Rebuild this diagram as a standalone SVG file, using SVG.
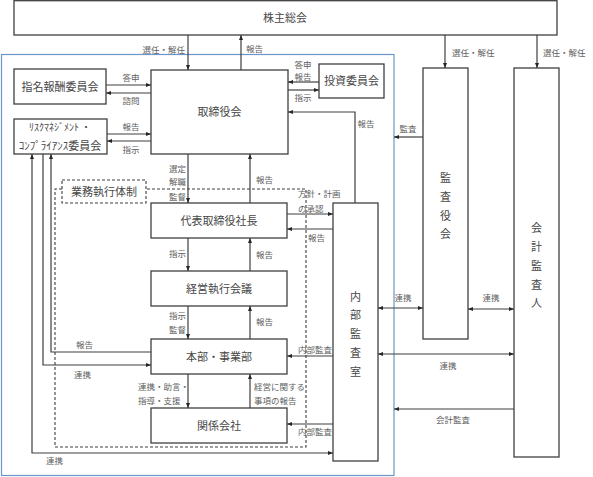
<svg xmlns="http://www.w3.org/2000/svg" width="593" height="477" viewBox="0 0 593 477">
<style>
.n{fill:#fff;stroke:#3f3f3f;stroke-width:1.3}
.t{font-family:"Noto Sans CJK JP","Noto Sans CJK SC",sans-serif;font-size:11px;fill:#474747;text-anchor:middle}
.l{font-family:"Noto Sans CJK JP","Noto Sans CJK SC",sans-serif;font-size:8.5px;fill:#606060}
.m{text-anchor:middle}
.e{text-anchor:end}
.c{fill:none;stroke:#3f3f3f;stroke-width:1.2}
.d{fill:none;stroke:#3f3f3f;stroke-width:1.1;stroke-dasharray:3,2}
</style>
<defs>
<marker id="a" viewBox="0 0 10 10" refX="10" refY="5" markerWidth="5" markerHeight="5" markerUnits="userSpaceOnUse" orient="auto-start-reverse"><path d="M0,1 L10,5 L0,9z" fill="#262626"/></marker>
</defs>
<rect x="0" y="0" width="593" height="477" fill="#fff"/>
<rect x="1.5" y="54.5" width="392.5" height="421" fill="none" stroke="#6b96c9" stroke-width="1.2"/>
<g id="dashed-area">
<path class="d" d="M62,189 H55 V447 H306 V189 H146"/>
</g>
<g id="kabunushi"><rect class="n" x="14" y="0.7" width="543" height="34.3"/><text class="t" x="285" y="22">株主総会</text></g>
<g id="shimei"><rect class="n" x="14" y="69" width="92" height="35"/><text class="t" x="60" y="90.5">指名報酬委員会</text></g>
<g id="risk"><rect class="n" x="14" y="119" width="93" height="35"/><text class="t" x="60" y="131" style="font-size:10px">ﾘｽｸﾏﾈｼﾞﾒﾝﾄ ・</text><text class="t" x="60" y="150">ｺﾝﾌﾟﾗｲｱﾝｽ委員会</text></g>
<g id="torishimariyakukai"><rect class="n" x="151" y="70" width="137" height="84"/><text class="t" x="219.5" y="116">取締役会</text></g>
<g id="toushi"><rect class="n" x="319" y="64" width="65" height="34"/><text class="t" x="351.5" y="85">投資委員会</text></g>
<g id="kansayakukai"><rect class="n" x="423" y="68" width="45" height="271"/>
<text class="t" x="445.5" y="182">監</text><text class="t" x="445.5" y="201">査</text><text class="t" x="445.5" y="220">役</text><text class="t" x="445.5" y="238">会</text></g>
<g id="kaikei"><rect class="n" x="514" y="68" width="45" height="389"/>
<text class="t" x="536.5" y="232">会</text><text class="t" x="536.5" y="251">計</text><text class="t" x="536.5" y="270">監</text><text class="t" x="536.5" y="289">査</text><text class="t" x="536.5" y="307">人</text></g>
<g id="naibu"><rect class="n" x="333" y="203" width="45" height="258"/>
<text class="t" x="355.5" y="301">内</text><text class="t" x="355.5" y="319">部</text><text class="t" x="355.5" y="338">監</text><text class="t" x="355.5" y="357">査</text><text class="t" x="355.5" y="376">室</text></g>
<g id="gyoumu"><rect x="62" y="180" width="84" height="23" fill="#fff" stroke="#3f3f3f" stroke-width="1.1" stroke-dasharray="3,2"/><text class="t" x="104" y="195.5">業務執行体制</text></g>
<g id="daihyou"><rect class="n" x="151" y="203" width="136" height="35"/><text class="t" x="219" y="224.5">代表取締役社長</text></g>
<g id="keiei"><rect class="n" x="151" y="271" width="136" height="35"/><text class="t" x="219" y="292.5">経営執行会議</text></g>
<g id="honbu"><rect class="n" x="151" y="339" width="136" height="35"/><text class="t" x="219" y="360.5">本部・事業部</text></g>
<g id="kankei"><rect class="n" x="151" y="408" width="136" height="35"/><text class="t" x="219" y="429.5">関係会社</text></g>
<g id="connectors" marker-end="url(#a)">
<path class="c" d="M188,35 V70"/>
<path class="c" d="M241,70 V35"/>
<path class="c" d="M445,35 V68"/>
<path class="c" d="M537,35 V68"/>
<path class="c" d="M106,85 H151"/>
<path class="c" d="M151,93 H106"/>
<path class="c" d="M107,134 H151"/>
<path class="c" d="M151,141 H107"/>
<path class="c" d="M319,82 H288"/>
<path class="c" d="M288,90 H319"/>
<path class="c" d="M355,203 V112 H288"/>
<path class="c" d="M423,137 H394"/>
<path class="c" d="M188,154 V203"/>
<path class="c" d="M250,203 V154"/>
<path class="c" d="M287,214 H333"/>
<path class="c" d="M333,229 H287"/>
<path class="c" d="M188,238 V271"/>
<path class="c" d="M250,271 V238"/>
<path class="c" d="M188,306 V339"/>
<path class="c" d="M250,339 V306"/>
<path class="c" d="M333,356 H287"/>
<path class="c" d="M188,374 V408"/>
<path class="c" d="M250,408 V374"/>
<path class="c" d="M333,424 H287"/>
<path class="c" d="M378,308 H423" marker-start="url(#a)"/>
<path class="c" d="M468,309 H514" marker-start="url(#a)"/>
<path class="c" d="M378,354 H514" marker-start="url(#a)"/>
<path class="c" d="M514,409 H394"/>
<path class="c" d="M32,154 V453 H333" marker-start="url(#a)"/>
<path class="c" d="M43,154 V365 H151"/>
<path class="c" d="M151,352 H51 V154"/>
</g>
<g id="labels">
<text class="l e" x="185" y="53">選任・解任</text>
<text class="l" x="246" y="52">報告</text>
<text class="l m" x="131" y="81">答申</text>
<text class="l m" x="131" y="104">諮問</text>
<text class="l m" x="131" y="130">報告</text>
<text class="l m" x="131" y="153">指示</text>
<text class="l m" x="303" y="68">答申</text>
<text class="l m" x="303" y="80">報告</text>
<text class="l m" x="303" y="101">指示</text>
<text class="l m" x="366" y="127">報告</text>
<text class="l m" x="408" y="132">監査</text>
<text class="l" x="452" y="56">選任・解任</text>
<text class="l" x="543" y="56">選任・解任</text>
<text class="l e" x="186" y="172">選定</text>
<text class="l e" x="186" y="185">解職</text>
<text class="l e" x="186" y="200">監督</text>
<text class="l" x="256" y="183">報告</text>
<text class="l" x="298" y="197">方針・計画</text>
<text class="l" x="298" y="212">の承認</text>
<text class="l" x="308" y="241">報告</text>
<text class="l e" x="186" y="257">指示</text>
<text class="l" x="256" y="258">報告</text>
<text class="l e" x="186" y="319">指示</text>
<text class="l e" x="186" y="333">監督</text>
<text class="l" x="256" y="325">報告</text>
<text class="l" x="298" y="353">内部監査</text>
<text class="l" x="138" y="390">連携・助言・</text>
<text class="l" x="138" y="404">指導・支援</text>
<text class="l" x="254" y="390">経営に関する</text>
<text class="l" x="254" y="404">事項の報告</text>
<text class="l" x="298" y="435">内部監査</text>
<text class="l" x="76" y="348">報告</text>
<text class="l" x="74" y="378">連携</text>
<text class="l" x="46" y="464">連携</text>
<text class="l m" x="403" y="301">連携</text>
<text class="l m" x="491" y="301">連携</text>
<text class="l m" x="448" y="369">連携</text>
<text class="l m" x="453" y="423">会計監査</text>
</g>
</svg>
